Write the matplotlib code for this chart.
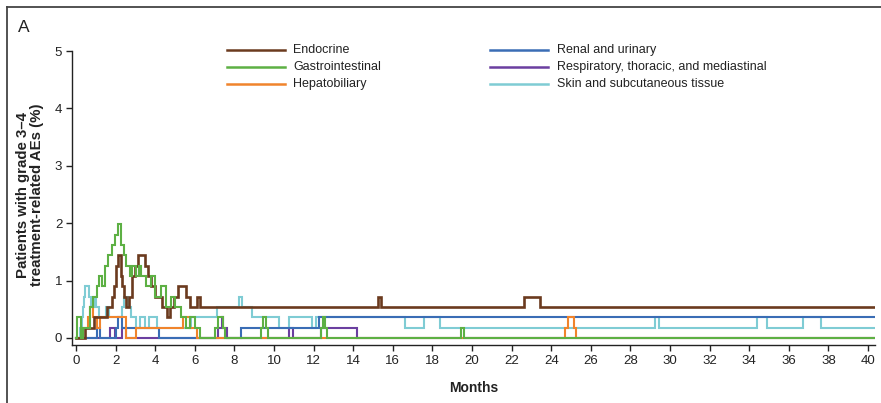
import matplotlib
matplotlib.use("Agg")
import matplotlib.pyplot as plt
from matplotlib.lines import Line2D

plt.rcParams['font.family'] = ['Liberation Sans', 'DejaVu Sans']

# Step data: month at which each level starts, and the level (% of patients)
endocrine_t = [0, 0.45, 0.9, 1.55, 1.8, 1.9, 2.0, 2.1, 2.25, 2.35, 2.45, 2.55, 2.7, 2.85,
               3.0, 3.15, 3.5, 3.65, 3.8, 4.0, 4.35, 4.6, 4.75, 4.95, 5.15, 5.55, 5.75,
               6.1, 6.25, 15.25, 15.4, 22.6, 23.45, 40.3]
endocrine_v = [0, 0.18, 0.36, 0.54, 0.72, 0.9, 1.26, 1.44, 1.08, 0.9, 0.72, 0.54, 0.72, 1.08,
               1.26, 1.44, 1.26, 1.08, 0.9, 0.72, 0.54, 0.36, 0.54, 0.72, 0.9, 0.72, 0.54,
               0.72, 0.54, 0.72, 0.54, 0.72, 0.54, 0.54]

gi_t = [0, 0.05, 0.25, 0.35, 0.7, 0.85, 1.05, 1.15, 1.3, 1.45, 1.6, 1.8, 1.95, 2.1,
        2.25, 2.35, 2.45, 2.55, 2.75, 2.85, 3.05, 3.2, 3.3, 3.55, 3.8, 4.0, 4.3, 4.55,
        4.8, 5.0, 5.3, 5.55, 5.75, 6.0, 6.25, 7.0, 7.15, 7.4, 7.55,
        9.35, 9.45, 9.6, 9.7, 12.35, 12.45, 12.6, 12.7, 19.45, 19.6, 40.3]
gi_v = [0, 0.36, 0, 0.18, 0.54, 0.72, 0.9, 1.08, 0.9, 1.26, 1.44, 1.62, 1.8, 1.98,
        1.62, 1.62, 1.44, 1.26, 1.08, 1.26, 1.08, 1.26, 1.08, 0.9, 1.08, 0.72, 0.9, 0.54,
        0.72, 0.54, 0.36, 0.18, 0.36, 0.18, 0, 0.18, 0.36, 0.18, 0,
        0.18, 0.36, 0.18, 0, 0.18, 0.36, 0.18, 0, 0.18, 0, 0]

hep_t = [0, 0.3, 0.6, 0.7, 0.85, 1.05, 1.2, 2.55, 3.05, 5.4, 5.75, 6.1,
         24.7, 24.85, 25.15, 25.25, 40.3]
hep_v = [0, 0.18, 0.36, 0.54, 0.36, 0.18, 0.36, 0, 0.18, 0.36, 0.18, 0,
         0.18, 0.36, 0.18, 0, 0]

renal_t = [0, 1.05, 1.2, 2.0, 2.1, 2.35, 4.2, 8.35, 12.25, 40.3]
renal_v = [0, 0.18, 0, 0.18, 0.36, 0.18, 0, 0.18, 0.36, 0.36]

resp_t = [0, 1.7, 1.95, 2.3, 2.55, 7.15, 7.35, 7.45, 7.65, 10.75, 10.95, 12.35, 14.2, 40.3]
resp_v = [0, 0.18, 0, 0.18, 0, 0.18, 0.36, 0.18, 0, 0.18, 0, 0.18, 0, 0]

skin_t = [0, 0.2, 0.3, 0.35, 0.4, 0.45, 0.65, 0.75, 0.9, 1.0, 1.15, 1.5, 1.65, 2.3,
          2.45, 2.65, 2.8, 3.05, 3.25, 3.5, 3.7, 4.1, 5.8, 7.1, 8.25, 8.4, 8.9,
          10.25, 10.75, 11.9, 12.1, 16.6, 17.6, 18.4, 29.25, 29.45, 34.4, 34.9,
          36.7, 37.6, 40.3]
skin_v = [0, 0.18, 0.36, 0.54, 0.72, 0.9, 0.72, 0.54, 0.72, 0.54, 0.36, 0.54, 0.36, 0.54,
          0.72, 0.54, 0.36, 0.18, 0.36, 0.18, 0.36, 0.18, 0.36, 0.54, 0.72, 0.54, 0.36,
          0.18, 0.36, 0.18, 0.36, 0.18, 0.36, 0.18, 0.36, 0.18, 0.36, 0.18,
          0.36, 0.18, 0.18]

labels = ["Endocrine", "Gastrointestinal", "Hepatobiliary",
          "Renal and urinary", "Respiratory, thoracic, and mediastinal",
          "Skin and subcutaneous tissue"]
colors = ["#6B3A1E", "#5DB044", "#F0842C", "#3A6DB5", "#6B3FA0", "#7FCCD4"]

x_ticks = list(range(0, 41, 2))
y_ticks = [0, 1, 2, 3, 4, 5]

W, H = 881, 403
fig = plt.figure(figsize=(W / 100, H / 100), dpi=100)
ax = fig.add_axes([72 / W, (H - 345) / H, 803 / W, 294 / H])

series = {
    "Endocrine": (endocrine_t, endocrine_v),
    "Gastrointestinal": (gi_t, gi_v),
    "Hepatobiliary": (hep_t, hep_v),
    "Renal and urinary": (renal_t, renal_v),
    "Respiratory, thoracic, and mediastinal": (resp_t, resp_v),
    "Skin and subcutaneous tissue": (skin_t, skin_v),
}
col = dict(zip(labels, colors))
# stacking order: later lines sit on top
order = ["Respiratory, thoracic, and mediastinal", "Skin and subcutaneous tissue",
         "Renal and urinary", "Hepatobiliary", "Endocrine", "Gastrointestinal"]
for z, name in enumerate(order):
    t, v = series[name]
    lw = 1.9 if name == "Endocrine" else 1.5
    ax.plot(t, v, drawstyle="steps-post", color=col[name], lw=lw, zorder=2 + z,
            solid_joinstyle="miter")

ax.set_xlim(-0.2, 40.35)
ax.set_ylim(-0.122, 5.0)
ax.set_xticks(x_ticks)
ax.set_yticks(y_ticks)
for s in ["top", "right"]:
    ax.spines[s].set_visible(False)
for s in ["left", "bottom"]:
    ax.spines[s].set_linewidth(1.0)
    ax.spines[s].set_color("#222222")
ax.tick_params(axis="both", direction="out", length=4, width=1.0, color="#222222",
               labelsize=9.5, labelcolor="#222222")
ax.tick_params(axis="x", pad=3)
ax.tick_params(axis="y", pad=3)

# axis titles
fig.text(474 / W, 1 - 388 / H, "Months", ha="center", va="center",
         fontsize=10, fontweight="bold", color="#222222")
fig.text(30 / W, 1 - 195 / H, "Patients with grade 3\u20134\ntreatment-related AEs (%)",
         rotation=90, ha="center", va="center", multialignment="center",
         fontsize=10.8, fontweight="bold", color="#222222", linespacing=1.05)
fig.text(18 / W, 1 - 27 / H, "A", ha="left", va="center", fontsize=12.5, color="#222222")

# panel frame
fig.add_artist(Line2D([7 / W, 7 / W], [0, 1 - 7 / H], transform=fig.transFigure,
                      color="#444444", lw=1.3))
fig.add_artist(Line2D([7 / W, 1], [1 - 7 / H, 1 - 7 / H], transform=fig.transFigure,
                      color="#444444", lw=1.3))

# legend, two columns
legend_cols = [(227, 285, 293), (490, 548, 557)]
legend_rows = [50, 67, 84]
for i, name in enumerate(labels):
    x0, x1, xt = legend_cols[i // 3]
    yy = 1 - legend_rows[i % 3] / H
    fig.add_artist(Line2D([x0 / W, x1 / W], [yy, yy], transform=fig.transFigure,
                          color=col[name], lw=1.8))
    fig.text(xt / W, yy, name, ha="left", va="center", fontsize=9, color="#222222")

fig.savefig("out.png", dpi=100)
